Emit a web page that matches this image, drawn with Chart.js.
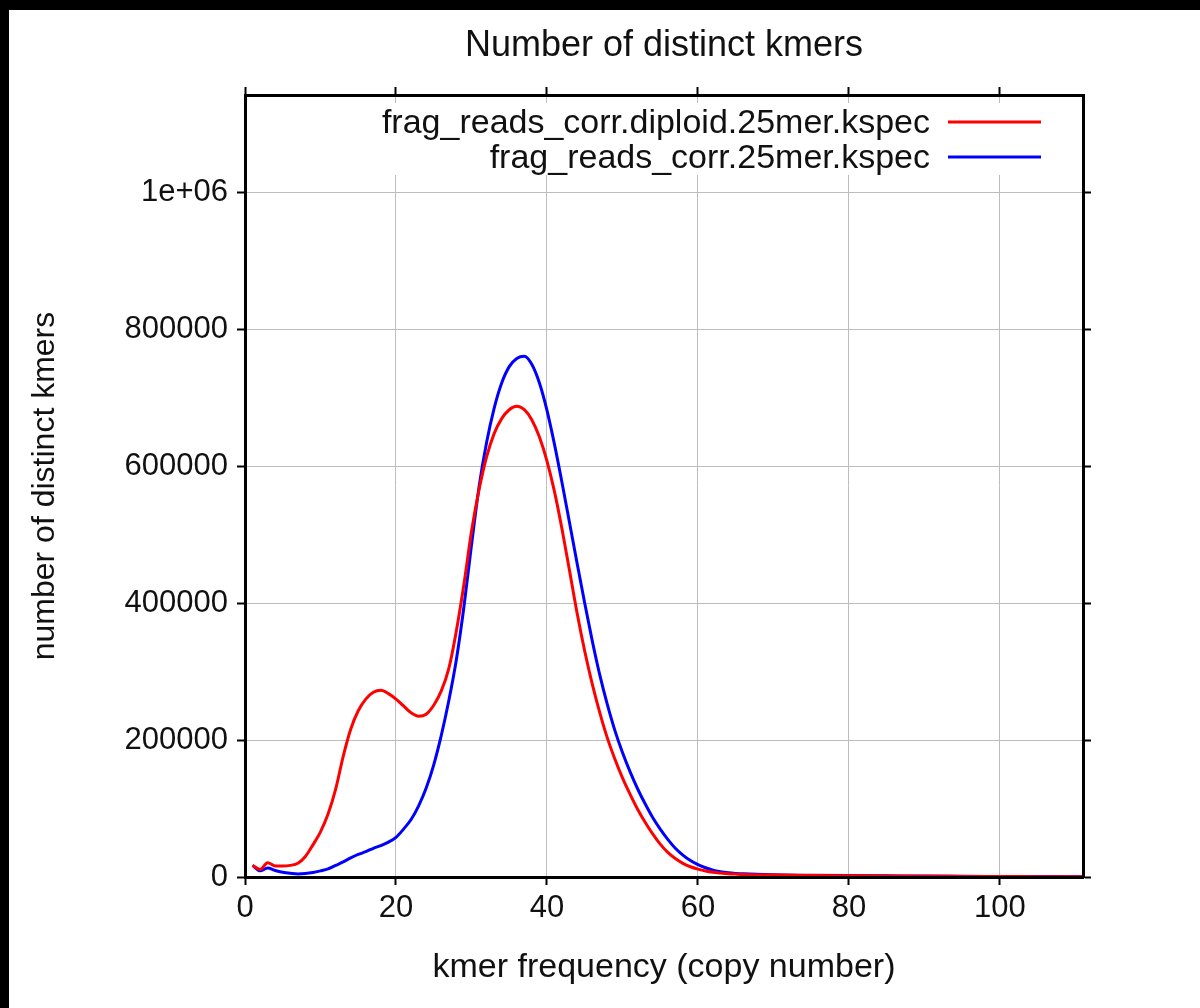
<!DOCTYPE html>
<html>
<head>
<meta charset="utf-8">
<script src="https://cdn.jsdelivr.net/npm/chart.js@4.4.0/dist/chart.umd.min.js"></script>
<style>
  html, body { margin: 0; padding: 0; background: #fff; }
  #wrap { width: 1200px; height: 1008px; position: relative; }
</style>
</head>
<body>
<div id="wrap"><canvas id="myChart"></canvas></div>
<script>
// valeurs
const kmerFreq = [1,2,3,4,5,6,7,8,9,10,11,12,13,14,15,16,17,18,19,20,
  21,22,23,24,25,26,27,28,29,30,31,32,33,34,35,36,37,38,39,40,
  41,42,43,44,45,46,47,48,49,50,51,52,53,54,55,56,57,58,59,60,
  61,62,63,64,65,66,70,75,80,85,90,95,100,105,111];

const diploidCounts = [17000,11000,21000,16000,16000,17000,20000,30000,47000,66000,
  92000,128000,176000,216000,243000,260000,270000,273000,268000,260000,
  250000,240000,235000,238000,251000,272000,305000,360000,428000,505000,
  566000,614000,648000,670000,683000,688000,683000,668000,643000,608000,
  563000,508000,447000,385000,330000,282000,240000,203000,172000,145000,
  121000,99000,80000,63000,48000,36000,27000,20000,15000,11500,
  8800,7000,5800,4800,4200,3700,2800,2200,1800,1400,1100,900,700,500,400];

const haploidCounts = [17000,9000,13000,9500,7000,5500,4500,5000,6500,9000,
  12000,17000,22000,28000,33000,37000,42000,46000,51000,58000,
  70000,84000,104000,130000,164000,207000,258000,318000,395000,485000,
  570000,635000,685000,722000,746000,758000,761000,749000,722000,682000,
  632000,576000,517000,458000,400000,345000,295000,252000,214000,182000,
  154000,129000,107000,87000,70000,55000,42000,32000,24000,18000,
  13500,10000,7800,6300,5300,4600,3200,2600,2100,1700,1300,1000,800,600,500];

const seriesNames = ['frag_reads_corr.diploid.25mer.kspec', 'frag_reads_corr.25mer.kspec'];
const seriesColors = ['#ff0000', '#0000ff'];

const xTicks = [0, 20, 40, 60, 80, 100];
const yTicks = [0, 200000, 400000, 600000, 800000, 1000000];
const yTickLabels = ['0', '200000', '400000', '600000', '800000', '1e+06'];

const X_MAX = 111;
const Y_MAX = 1143000;

Chart.defaults.font.family = "'Liberation Sans', Arial, sans-serif";
Chart.defaults.color = '#111';

function toPoints(ys) {
  return kmerFreq.map(function(x, i) { return { x: x, y: ys[i] }; });
}

// fond blanc + bandes noires du cadre de l'image
const background = {
  id: 'background',
  beforeDraw(chart) {
    const ctx = chart.ctx;
    ctx.save();
    ctx.fillStyle = '#fff';
    ctx.fillRect(0, 0, chart.width, chart.height);
    ctx.fillStyle = '#000';
    ctx.fillRect(0, 0, chart.width, 10);
    ctx.fillRect(0, 0, 9, chart.height);
    ctx.restore();
  }
};

// légende style gnuplot, en haut à droite dans la zone du graphe
const keyBox = {
  id: 'keyBox',
  beforeDatasetsDraw(chart) {
    const a = chart.chartArea;
    const ctx = chart.ctx;
    ctx.save();
    ctx.fillStyle = '#fff';
    ctx.fillRect(a.left + 115, a.top + 8, a.right - a.left - 150, 72);
    ctx.restore();
  },
  afterDatasetsDraw(chart) {
    const a = chart.chartArea;
    const ctx = chart.ctx;
    ctx.save();
    ctx.font = "34px 'Liberation Sans', Arial, sans-serif";
    ctx.textAlign = 'right';
    ctx.textBaseline = 'middle';
    chart.data.datasets.forEach(function(ds, i) {
      const y = a.top + 29 + i * 35;
      ctx.fillStyle = '#111';
      ctx.fillText(ds.label, a.right - 153, y);
      ctx.strokeStyle = ds.borderColor;
      ctx.lineWidth = 3;
      ctx.beginPath();
      ctx.moveTo(a.right - 135, y - 2);
      ctx.lineTo(a.right - 42, y - 2);
      ctx.stroke();
    });
    ctx.restore();
  }
};

function setTicks(values) {
  return function(scale) {
    scale.ticks = values.map(function(v) { return { value: v }; });
  };
}

const gridGray = '#bdbdbd';

var myChart = new Chart(document.getElementById('myChart'), {
  type: 'line',
  data: {
    datasets: [
      {
        label: seriesNames[0],
        data: toPoints(diploidCounts),
        borderColor: seriesColors[0],
        borderWidth: 3,
        pointRadius: 0,
        cubicInterpolationMode: 'monotone',
        fill: false
      },
      {
        label: seriesNames[1],
        data: toPoints(haploidCounts),
        borderColor: seriesColors[1],
        borderWidth: 3,
        pointRadius: 0,
        cubicInterpolationMode: 'monotone',
        fill: false
      }
    ]
  },
  options: {
    responsive: true,
    maintainAspectRatio: false,
    animation: false,
    layout: { padding: 0 },
    plugins: {
      legend: { display: false },
      tooltip: { enabled: false },
      title: {
        display: true,
        fullSize: false,
        text: 'Number of distinct kmers',
        font: { size: 36, weight: 'normal' },
        color: '#111',
        padding: { top: 24, bottom: 0 }
      }
    },
    scales: {
      x: {
        type: 'linear',
        position: 'bottom',
        min: 0,
        max: X_MAX,
        afterBuildTicks: setTicks(xTicks),
        afterFit: function(s) { s.height = 131; },
        grid: { color: gridGray, lineWidth: 1, tickColor: '#000', tickLength: 8, tickWidth: 2 },
        border: { color: '#000', width: 3, z: 1 },
        ticks: { font: { size: 31 }, color: '#111', padding: 5, maxRotation: 0 },
        title: {
          display: true,
          text: 'kmer frequency (copy number)',
          font: { size: 34 },
          color: '#111',
          padding: { top: 0, bottom: 20 }
        }
      },
      xTop: {
        type: 'linear',
        position: 'top',
        min: 0,
        max: X_MAX,
        afterBuildTicks: setTicks(xTicks),
        afterFit: function(s) { s.height = 95 - (24 + 36 * 1.2); },
        grid: { drawOnChartArea: false, tickColor: '#000', tickLength: 8, tickWidth: 2 },
        border: { color: '#000', width: 3, z: 1 },
        ticks: { display: false }
      },
      y: {
        type: 'linear',
        position: 'left',
        min: 0,
        max: Y_MAX,
        afterBuildTicks: setTicks(yTicks),
        afterFit: function(s) { s.width = 245; },
        grid: { color: gridGray, lineWidth: 1, tickColor: '#000', tickLength: 8, tickWidth: 2 },
        border: { color: '#000', width: 3, z: 1 },
        ticks: {
          font: { size: 31 },
          color: '#111',
          padding: 9,
          callback: function(value) {
            const i = yTicks.indexOf(value);
            return i >= 0 ? yTickLabels[i] : '';
          }
        },
        title: {
          display: true,
          text: 'number of distinct kmers',
          font: { size: 32 },
          color: '#111',
          padding: { top: 26, bottom: 0 }
        }
      },
      yRight: {
        type: 'linear',
        position: 'right',
        min: 0,
        max: Y_MAX,
        afterBuildTicks: setTicks(yTicks),
        afterFit: function(s) { s.width = 117; },
        grid: { drawOnChartArea: false, tickColor: '#000', tickLength: 8, tickWidth: 2 },
        border: { color: '#000', width: 3, z: 1 },
        ticks: { display: false }
      }
    }
  },
  plugins: [background, keyBox]
});
</script>
</body>
</html>
